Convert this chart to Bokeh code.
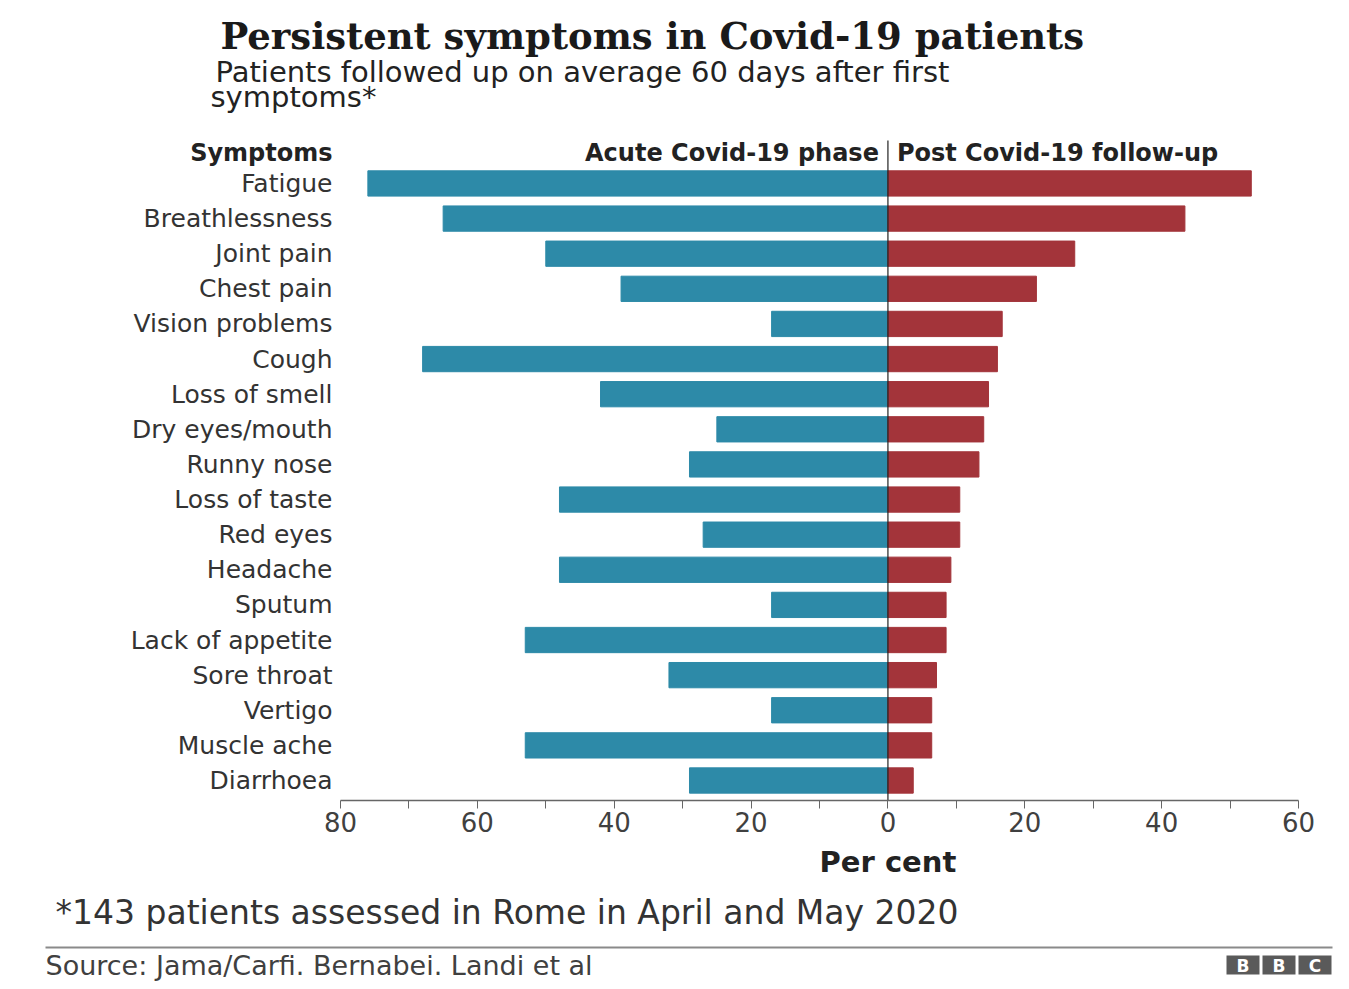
from bokeh.plotting import figure
from bokeh.layouts import column
from bokeh.models import Range1d, FixedTicker, ColumnDataSource
from bokeh.core.properties import value
from bokeh.embed import file_html
from bokeh.resources import INLINE

# ---------------- data ----------------
symptoms = ["Fatigue", "Breathlessness", "Joint pain", "Chest pain", "Vision problems",
            "Cough", "Loss of smell", "Dry eyes/mouth", "Runny nose", "Loss of taste",
            "Red eyes", "Headache", "Sputum", "Lack of appetite", "Sore throat",
            "Vertigo", "Muscle ache", "Diarrhoea"]
acute = [76, 65, 50, 39, 17, 68, 42, 25, 29, 48, 27, 48, 17, 53, 32, 17, 53, 29]
post = [53.1, 43.4, 27.3, 21.7, 16.7, 16.0, 14.7, 14.0, 13.3, 10.5, 10.5, 9.2, 8.5, 8.5, 7.1, 6.4, 6.4, 3.7]
x_ticks = [-80, -60, -40, -20, 0, 20, 40, 60]
x_minor = [-70, -50, -30, -10, 10, 30, 50]

TEAL = "#2d8aa8"
RED = "#a3343a"
FONT = "DejaVu Sans"

W = 1345
AXIS_Y = 800            # frame height of main figure = canvas y of the x axis line
AX_BORDER = 44          # space reserved below the frame for the axis
H_MAIN = AXIS_Y + AX_BORDER
H_FOOT = 985 - H_MAIN
AX_L, AX_R = 340, 1298  # canvas x of -80 and 60
X0, X1 = -80, 60
ppu = (AX_R - AX_L) / (X1 - X0)
XS = X0 - AX_L / ppu
XE = X1 + (W - AX_R) / ppu
n = len(symptoms)
ROW_PX = 35.12
Y0 = -20 / ROW_PX
Y1 = Y0 + AXIS_Y / ROW_PX

p = figure(frame_width=W, frame_height=AXIS_Y, output_backend="svg", toolbar_location=None,
           title=None, y_axis_location=None,
           x_range=Range1d(XS, XE), y_range=Range1d(Y0, Y1),
           min_border_left=0, min_border_right=0, min_border_top=0,
           min_border_bottom=AX_BORDER)
p.outline_line_color = None
p.xgrid.visible = False
p.ygrid.visible = False
p.background_fill_color = "white"
p.border_fill_color = "white"

ypos = [n - 1 - i for i in range(n)]
src = ColumnDataSource(dict(y=ypos, acute_left=[-a for a in acute], post=post,
                            name=symptoms, lx=[X0] * n))
p.hbar(y="y", left="acute_left", right=0, height=0.72, color=TEAL, source=src)
p.hbar(y="y", left=0, right="post", height=0.72, color=RED, source=src)

# zero line from the axis up through the header row
p.segment(x0=[0], y0=[Y0], x1=[0], y1=[n + 0.22], line_color="#222222", line_width=1.2)

# symptom labels
p.text(x="lx", y="y", text="name", source=src, x_offset=-8, text_align="right",
       text_baseline="middle", text_font=value(FONT), text_font_size="25px",
       text_color="#333333")

# headers
HDR_Y = n - 0.12
def hdr(x, off, txt, align):
    p.text(x=[x], y=[HDR_Y], text=[txt], x_offset=off, text_align=align, text_baseline="middle",
           text_font=value(FONT), text_font_size="24px", text_font_style="bold",
           text_color="#222222")

hdr(X0, -8, "Symptoms", "right")
hdr(0, -9, "Acute Covid-19 phase", "right")
hdr(0, 9, "Post Covid-19 follow-up", "left")

# x axis
xa = p.xaxis[0]
xa.bounds = (X0, X1)
xa.ticker = FixedTicker(ticks=x_ticks, minor_ticks=x_minor)
xa.major_label_overrides = {t: str(abs(t)) for t in x_ticks}
xa.axis_line_color = "#666666"
xa.axis_line_width = 1.5
xa.major_tick_line_color = "#666666"
xa.minor_tick_line_color = "#666666"
xa.major_tick_in = 0
xa.major_tick_out = 8
xa.minor_tick_in = 0
xa.minor_tick_out = 8
xa.major_label_text_font = FONT
xa.major_label_text_font_size = "26px"
xa.major_label_text_color = "#404040"
xa.major_label_standoff = 3

# canvas px -> data for the main figure
def dx(sx):
    return XS + sx / ppu

def dy(sy):
    return Y1 - sy / ROW_PX

def txt(fig, x, y, t, size, bold=False, font=FONT, color="#222222", align="left"):
    fig.text(x=[x], y=[y], text=[t], text_font=value(font), text_font_size=size,
             text_font_style="bold" if bold else "normal", text_color=color,
             text_align=align, text_baseline="middle")

txt(p, dx(220), dy(35), "Persistent symptoms in Covid-19 patients", "37px", bold=True,
    font="DejaVu Serif", color="#1a1a1a")
txt(p, dx(215), dy(71), "Patients followed up on average 60 days after first", "29px")
txt(p, dx(210), dy(96), "symptoms*", "29px")

# ---------------- footer figure ----------------
f = figure(frame_width=W, frame_height=H_FOOT, output_backend="svg", toolbar_location=None,
           title=None, x_axis_location=None, y_axis_location=None,
           x_range=Range1d(0, W), y_range=Range1d(H_FOOT, 0),
           min_border_left=0, min_border_right=0, min_border_top=0, min_border_bottom=0)
f.grid.visible = False
f.outline_line_color = None
f.background_fill_color = "white"
f.border_fill_color = "white"

def fy(sy):
    return sy - H_MAIN

zero_px = (0 - XS) * ppu
txt(f, zero_px, fy(861), "Per cent", "29px", bold=True, align="center")
txt(f, 55, fy(912), "*143 patients assessed in Rome in April and May 2020", "33px", color="#333333")
f.segment(x0=[45], y0=[fy(947)], x1=[1332], y1=[fy(947)], line_color="#8a8a8a", line_width=2)
txt(f, 45, fy(965), "Source: Jama/Carfi. Bernabei. Landi et al", "27px", color="#404040")

# BBC logo
logo_letters = ["B", "B", "C"]
lefts = [1226 + i * 36 for i in range(3)]
f.quad(left=lefts, right=[l + 33 for l in lefts], top=[fy(955)] * 3, bottom=[fy(974)] * 3,
       fill_color="#5a5a5a", line_color=None)
f.text(x=[l + 16.5 for l in lefts], y=[fy(965)] * 3, text=logo_letters, text_font=value(FONT),
       text_font_size="17px", text_font_style="bold", text_color="white",
       text_align="center", text_baseline="middle")

layout = column(p, f, spacing=0)
open("out.html", "w").write(file_html(layout, INLINE))
